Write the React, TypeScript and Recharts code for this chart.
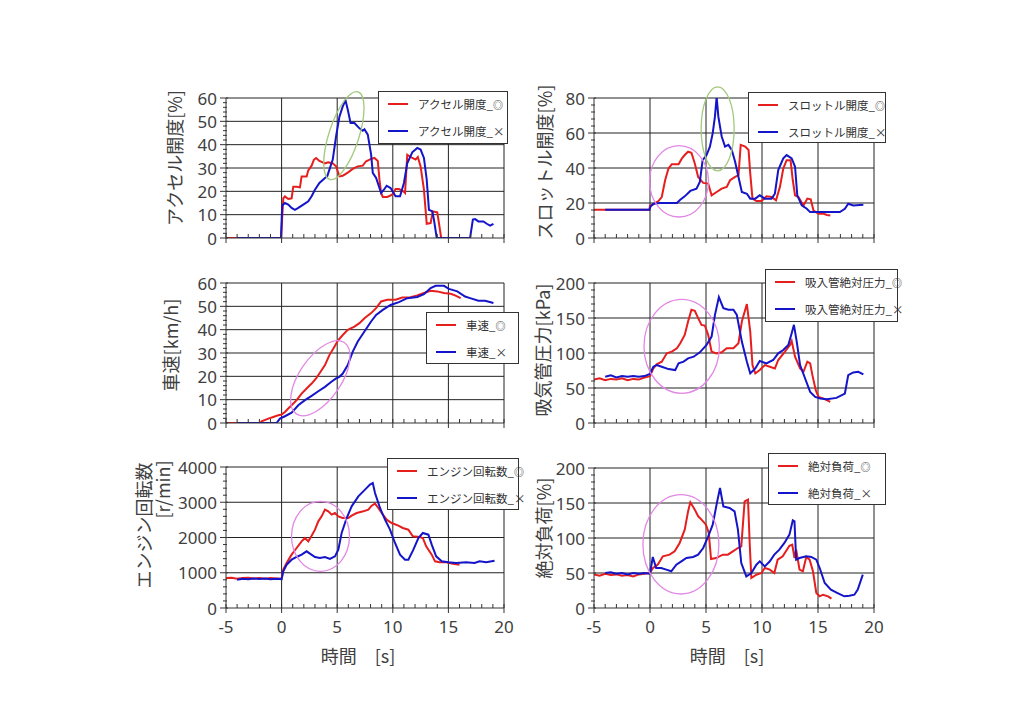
import React from "react";
import { LineChart, Line, XAxis, YAxis, ReferenceLine, ReferenceDot, Legend } from "recharts";

// time [s] / value pairs (◎ = red, × = blue)
const accelGood: [number, number][] = [
  [-5, 0], [-0.05, 0], [0.15, 17], [0.3, 17.8], [0.6, 16.7], [0.9, 17], [1.05, 22], [1.35, 22], [1.65, 21.7],
  [1.8, 26.4], [2.25, 26.4], [2.4, 29], [2.7, 31], [2.9, 33.5], [3.1, 34.3], [3.4, 33], [3.9, 32], [4.2, 32.4],
  [4.6, 32], [4.9, 30.7], [5.2, 26.4], [5.5, 26.7], [5.95, 28], [6.4, 29.6], [6.85, 30.7], [7.3, 31], [7.6, 32.9],
  [8.05, 33.9], [8.35, 34.3], [8.65, 33], [8.8, 25], [8.95, 19.3], [9.1, 17.6], [9.5, 17.6], [9.95, 18.6],
  [10.25, 21], [10.55, 21], [10.95, 20], [11.1, 19.3], [11.3, 35.7], [11.75, 34.3], [12.05, 33.6], [12.25, 34.7],
  [12.5, 30.7], [12.8, 20.7], [13.05, 6.1], [13.4, 6.4], [13.6, 11.4], [14.0, 11], [14.15, 6.4], [14.35, 0], [16.1, 0],
];
const accelBad: [number, number][] = [
  [-4, 0], [-0.05, 0], [0.05, 13.9], [0.3, 15], [0.6, 14.3], [0.9, 12.9], [1.2, 12.1], [1.5, 12.9], [1.95, 14.3],
  [2.4, 15.7], [2.7, 17.9], [3.0, 20.7], [3.4, 23.6], [3.9, 25.7], [4.1, 26.4], [4.3, 29.3], [4.6, 33.6], [4.9, 43.6],
  [5.2, 52], [5.5, 56.4], [5.75, 59], [5.95, 55], [6.2, 49.3], [6.55, 49.3], [7.0, 47], [7.3, 46], [7.45, 46.6],
  [7.75, 44.3], [8.05, 35.7], [8.2, 27.9], [8.5, 25.7], [8.95, 19.3], [9.2, 20.7], [9.45, 22.4], [9.8, 21.4],
  [10.25, 17.9], [10.65, 17.9], [11.0, 23.6], [11.3, 32], [11.75, 36.7], [12.2, 38.6], [12.5, 37.9], [12.8, 34.3],
  [13.05, 25], [13.25, 12.1], [13.55, 11.4], [13.7, 7.9], [13.95, 0], [16.95, 0], [17.2, 7.9], [17.4, 8.1],
  [17.7, 7.1], [18.15, 7.1], [18.45, 6.1], [18.75, 5.3], [19.05, 6.1],
];
const throttleGood: [number, number][] = [
  [-5, 16.1], [-0.05, 16.1], [0, 18.6], [0.3, 19.2], [0.75, 21.1], [1.05, 23.4], [1.35, 33], [1.65, 39.7],
  [1.95, 42.2], [2.55, 42.2], [2.85, 45.5], [3.1, 47.4], [3.4, 49.3], [3.7, 48.7], [4.0, 42.6], [4.3, 34.9],
  [4.75, 31.5], [5.2, 31.1], [5.5, 24.4], [5.95, 26.3], [6.4, 28.2], [6.85, 29.2], [7.15, 33], [7.6, 34.9],
  [7.9, 35.9], [8.1, 53.2], [8.5, 52.2], [8.8, 50.3], [8.95, 36.9], [9.15, 22.5], [9.5, 21.1], [9.95, 21.1],
  [10.4, 23.8], [10.85, 23.4], [11.25, 21.5], [11.6, 29.2], [11.9, 39.7], [12.2, 44.5], [12.55, 44.5], [12.75, 33],
  [12.95, 24.4], [13.25, 23.4], [13.7, 18.6], [14.05, 22.5], [14.35, 22.1], [14.6, 15.7], [15.05, 13.8],
  [15.5, 13.8], [15.8, 13.2], [16.1, 12.9],
];
const throttleBad: [number, number][] = [
  [-4, 16.1], [-0.05, 16.1], [0.05, 18], [0.3, 19.6], [0.9, 20], [2.4, 20], [2.7, 21.9], [3.1, 23.8], [3.6, 26.9],
  [4.15, 28.2], [4.45, 32], [4.7, 44.5], [5.05, 47.4], [5.35, 52.2], [5.6, 59.9], [5.8, 69.5], [5.95, 80.6],
  [6.1, 69.5], [6.4, 58], [6.7, 52.2], [7.0, 53.2], [7.3, 50.3], [7.6, 43.6], [7.9, 34.9], [8.2, 26.3],
  [8.65, 25.3], [8.95, 22.5], [9.4, 22.5], [9.8, 24.4], [10.25, 22.5], [10.85, 22.5], [11.15, 25.3], [11.45, 38.8],
  [11.9, 45.5], [12.2, 47.4], [12.65, 45.5], [12.95, 40.7], [13.15, 24.4], [13.55, 18.6], [14.0, 16.7],
  [14.3, 14.8], [16.95, 14.8], [17.4, 16.7], [17.7, 19.6], [18.15, 18.6], [19.05, 19],
];
const speedGood: [number, number][] = [
  [-5, 0], [-1.9, 0], [-1.8, 0.7], [-1.2, 1.9], [-0.75, 2.6], [-0.3, 3.3], [0, 3.6], [0.3, 4.7], [0.6, 6.2],
  [0.9, 7.6], [1.35, 9.8], [1.8, 12.6], [2.25, 14.8], [2.7, 16.9], [3.1, 19.1], [3.4, 21.2], [3.9, 24.8],
  [4.3, 29.1], [4.75, 32.7], [5.05, 35.2], [5.5, 37.7], [5.95, 39.9], [6.55, 41.3], [7.0, 42.8], [7.45, 44.9],
  [8.05, 47.1], [8.5, 49.2], [8.95, 52.1], [9.5, 52.8], [10.25, 52.8], [10.85, 53.8], [11.6, 53.9], [12.2, 54.7],
  [12.8, 55.7], [13.4, 56.7], [14.0, 56.4], [14.6, 55.7], [15.2, 55.4], [15.6, 54.7], [16.1, 53.5],
];
const speedBad: [number, number][] = [
  [-4, 0], [-0.45, 0], [-0.15, 1.9], [0.3, 2.9], [0.9, 4.4], [1.5, 7.6], [2.1, 9.8], [2.7, 11.6], [3.3, 13.6],
  [3.9, 15.5], [4.45, 17.6], [4.9, 19.1], [5.2, 19.8], [5.5, 21.2], [5.95, 24.8], [6.4, 30.6], [6.85, 34.9],
  [7.45, 39.2], [8.05, 43.5], [8.5, 46.3], [9.1, 48.5], [9.8, 50.6], [10.55, 51.8], [11.3, 53.5], [12.2, 54],
  [12.8, 55.2], [13.4, 57.8], [13.85, 58.8], [14.6, 58.8], [15.05, 57.5], [15.8, 56.4], [16.5, 54.2],
  [16.95, 53.5], [17.7, 52.4], [18.3, 52.4], [19.05, 51.4],
];
const mapGood: [number, number][] = [
  [-5, 62], [-4.5, 64], [-4, 61], [-3.5, 63], [-3, 62], [-2.5, 64], [-2, 61], [-1.5, 63], [-1, 62], [-0.5, 65],
  [0, 67], [0.3, 78], [0.6, 83.7], [1.05, 87.6], [1.5, 99.5], [1.95, 101.9], [2.4, 106.7], [2.7, 113.9],
  [3.1, 125.8], [3.4, 145], [3.7, 161.7], [4.0, 160.3], [4.3, 149.8], [4.6, 140.2], [4.9, 139.2], [5.2, 125.8],
  [5.5, 101.9], [5.95, 99.5], [6.4, 101], [6.85, 106.7], [7.45, 106.7], [7.9, 113.9], [8.2, 145], [8.65, 169.9],
  [8.95, 130.6], [9.15, 82.8], [9.4, 70.8], [9.8, 75.6], [10.25, 82.8], [10.7, 80.4], [11.15, 78], [11.45, 90],
  [12.05, 101.9], [12.5, 111.5], [12.65, 117.2], [12.95, 94.7], [13.4, 78], [13.7, 73.2], [14.05, 87.6],
  [14.3, 85.2], [14.5, 68.4], [14.8, 46.9], [15.05, 37.3], [15.5, 34.9], [16.1, 30.1],
];
const mapBad: [number, number][] = [
  [-4, 66], [-3.5, 68], [-3, 65], [-2.5, 67], [-2, 66], [-1.5, 67], [-1, 66], [-0.5, 67], [0, 70], [0.3, 80.4],
  [0.6, 82.8], [1.05, 80.4], [1.65, 77], [2.25, 75.6], [2.55, 85.2], [3.0, 87.6], [3.4, 92.3], [3.9, 94.7],
  [4.45, 101], [5.05, 111.5], [5.5, 123.4], [5.8, 154.5], [6.15, 179.9], [6.55, 164.1], [7.0, 161.7],
  [7.45, 161.7], [7.75, 154.5], [8.2, 116.3], [8.65, 87.6], [8.95, 70.8], [9.4, 78], [9.8, 88.5], [10.4, 85.2],
  [11.0, 90], [11.45, 99.5], [11.9, 104.3], [12.35, 111.5], [12.65, 128.2], [12.85, 140.2], [13.1, 116.3],
  [13.4, 82.8], [13.85, 63.6], [14.3, 44.5], [14.75, 37.3], [15.2, 34.9], [15.8, 34], [16.65, 35.9], [17.4, 42.1],
  [17.7, 68.4], [18.15, 72.2], [18.6, 73.2], [19.05, 69.4],
];
const rpmGood: [number, number][] = [
  [-5, 850], [-4.5, 860], [-4, 830], [-3.5, 850], [-3, 860], [-2.5, 840], [-2, 850], [-1.5, 830], [-1, 850],
  [-0.5, 840], [0, 830], [0.15, 1087], [0.45, 1277], [0.9, 1513], [1.35, 1702], [1.8, 1891], [2.1, 1986],
  [2.4, 1891], [2.7, 2052], [3.0, 2222], [3.3, 2459], [3.6, 2600], [3.9, 2790], [4.2, 2742], [4.5, 2648],
  [4.8, 2695], [5.1, 2600], [5.5, 2553], [6.0, 2553], [6.3, 2619], [6.75, 2695], [7.35, 2742], [7.8, 2790],
  [8.1, 2903], [8.4, 2960], [8.7, 2837], [9.0, 2695], [9.45, 2506], [9.9, 2411], [10.5, 2336], [10.9, 2270],
  [11.4, 2222], [11.8, 2033], [12.4, 2014], [12.7, 1986], [13.0, 1749], [13.5, 1513], [13.8, 1324], [14.2, 1296],
  [14.8, 1296], [15.4, 1258], [16.0, 1229],
];
const rpmBad: [number, number][] = [
  [-4, 804], [-3.5, 830], [-3, 815], [-2.5, 840], [-2, 820], [-1.5, 835], [-1, 815], [-0.5, 830], [0, 820],
  [0.15, 1040], [0.45, 1229], [0.9, 1371], [1.35, 1447], [1.8, 1513], [2.25, 1608], [2.55, 1541], [3.0, 1447],
  [3.45, 1418], [3.9, 1447], [4.35, 1390], [4.8, 1466], [5.1, 1655], [5.4, 2128], [5.85, 2553], [6.3, 2884],
  [6.9, 3168], [7.5, 3357], [7.95, 3499], [8.2, 3546], [8.4, 3262], [8.85, 2837], [9.3, 2506], [9.75, 2222],
  [10.2, 1844], [10.65, 1513], [11.1, 1371], [11.4, 1371], [11.85, 1655], [12.3, 1986], [12.7, 2128],
  [13.2, 2080], [13.5, 1797], [13.9, 1466], [14.4, 1324], [15.0, 1296], [15.7, 1277], [16.6, 1296],
  [17.35, 1277], [17.8, 1324], [18.4, 1296], [19.15, 1343],
];
const loadGood: [number, number][] = [
  [-5, 48], [-4.5, 46], [-4, 49], [-3.5, 47], [-3, 48], [-2.5, 46], [-2, 47], [-1.5, 45], [-1, 48], [-0.5, 49],
  [0, 50], [0.25, 57], [0.7, 62], [1.15, 73.8], [1.75, 76.2], [2.2, 81], [2.65, 92.9], [3.1, 111.9], [3.4, 138],
  [3.6, 151], [4.0, 140.5], [4.3, 131], [4.6, 126.2], [5.0, 119], [5.25, 107], [5.45, 70], [5.9, 71.4],
  [6.5, 76.2], [6.95, 76.2], [7.4, 81], [7.85, 85.7], [8.15, 88.1], [8.45, 152.4], [8.75, 154.8], [8.9, 92.9],
  [9.05, 42.9], [9.5, 47.6], [9.95, 50], [10.25, 57.1], [10.7, 54.8], [11.1, 50], [11.4, 69], [11.85, 73.8],
  [12.45, 89], [12.7, 90.5], [12.9, 71.4], [13.05, 83.3], [13.35, 54.8], [13.65, 52.4], [13.95, 72.9],
  [14.25, 69], [14.55, 52.4], [14.85, 21.4], [15.15, 16.7], [15.45, 19], [15.9, 16.7], [16.2, 13.3],
];
const loadBad: [number, number][] = [
  [-4, 50], [-3.5, 51], [-3, 49], [-2.5, 50], [-2, 48], [-1.5, 50], [-1, 49], [-0.5, 50], [0, 49], [0.25, 72.9],
  [0.55, 57], [1.0, 57], [1.45, 54.8], [1.9, 52.4], [2.35, 61.9], [2.8, 66.7], [3.25, 71.4], [3.85, 72.9],
  [4.3, 76.2], [4.75, 85.7], [5.2, 102.4], [5.6, 119], [6.0, 152.4], [6.25, 171.4], [6.55, 145.2], [7.1, 142.9],
  [7.55, 138.1], [7.85, 111.9], [8.15, 64.3], [8.6, 45.2], [9.05, 50], [9.5, 61.9], [9.8, 66.7], [10.25, 59.5],
  [10.7, 66.7], [11.1, 76.2], [11.55, 83.3], [12.0, 92.9], [12.45, 104.8], [12.75, 125.2], [12.9, 123.8],
  [13.05, 69], [13.35, 71.4], [13.95, 73.8], [14.4, 72.9], [14.85, 69], [15.15, 57.1], [15.6, 35.7],
  [16.15, 26.2], [16.75, 21.4], [17.35, 16.7], [17.8, 17.6], [18.25, 19], [18.55, 26.2], [19.0, 47.6],
];

const timeMajor = [-5, 0, 5, 10, 15, 20];
const accelMajor = [0, 10, 20, 30, 40, 50, 60];
const throttleMajor = [0, 20, 40, 60, 80];
const speedMajor = [0, 10, 20, 30, 40, 50, 60];
const mapMajor = [0, 50, 100, 150, 200];
const rpmMajor = [0, 1000, 2000, 3000, 4000];
const loadMajor = [0, 50, 100, 150, 200];

const RED = "#e61e1e";
const BLUE = "#1414c8";
const GREEN = "#a3c97c";
const PINK = "#e288e6";
const TXT = "#404040";
const JP = '"Noto Sans CJK JP", "Noto Sans", sans-serif';
const NUM = '"Noto Sans", "DejaVu Sans", sans-serif';
const TOP = 30; // room above the plot for rotated titles
const YW = 110; // y axis band width

const toPts = (a: [number, number][]) => a.map(([t, v]) => ({ t, v }));
const withMinor = (major: number[], n: number) => {
  const out: number[] = [];
  for (let i = 0; i < major.length - 1; i++) {
    const step = (major[i + 1] - major[i]) / n;
    for (let k = 0; k < n; k++) out.push(major[i] + step * k);
  }
  out.push(major[major.length - 1]);
  return out;
};

// left/top = plot-area corner on the page, ph = plot height
const panels = [
  {
    id: "accel", left: 226, top: 98, pw: 278, ph: 140, bottom: false,
    good: accelGood, bad: accelBad, major: accelMajor, name: "アクセル開度",
    title: [{ text: "アクセル開度[%]", dx: 52, dy: -10 }],
    legend: { x: 378, y: 91, w: 130, h: 53 },
    ellipses: [{ t: 5.6, v: 43.9, rx: 15, ry: 46, rot: 18, color: GREEN }],
  },
  {
    id: "throttle", left: 594, top: 98, pw: 280, ph: 140, bottom: false,
    good: throttleGood, bad: throttleBad, major: throttleMajor, name: "スロットル開度",
    title: [{ text: "スロットル開度[%]", dx: 50, dy: -6 }],
    legend: { x: 748, y: 92, w: 138, h: 51 },
    ellipses: [
      { t: 6.04, v: 62.4, rx: 16.5, ry: 42, rot: 0, color: GREEN },
      { t: 2.59, v: 32.4, rx: 29.5, ry: 35.7, rot: 0, color: PINK },
    ],
  },
  {
    id: "speed", left: 226, top: 283, pw: 278, ph: 140, bottom: false,
    good: speedGood, bad: speedBad, major: speedMajor, name: "車速",
    title: [{ text: "車速[km/h]", dx: 56, dy: -8 }],
    legend: { x: 426, y: 312, w: 93, h: 52 },
    ellipses: [{ t: 3.48, v: 19.2, rx: 21, ry: 43, rot: 34, color: PINK }],
  },
  {
    id: "map", left: 594, top: 283, pw: 280, ph: 140, bottom: false,
    good: mapGood, bad: mapBad, major: mapMajor, name: "吸入管絶対圧力",
    title: [{ text: "吸気管圧力[kPa]", dx: 52, dy: -3 }],
    legend: { x: 765, y: 269, w: 133, h: 53 },
    ellipses: [{ t: 2.83, v: 109.6, rx: 37.7, ry: 47, rot: 0, color: PINK }],
  },
  {
    id: "rpm", left: 226, top: 467, pw: 278, ph: 141, bottom: true,
    good: rpmGood, bad: rpmBad, major: rpmMajor, name: "エンジン回転数",
    title: [
      { text: "エンジン回転数", dx: 83, dy: -12 },
      { text: "[r/min]", dx: 64, dy: -48 },
    ],
    legend: { x: 387, y: 458, w: 132, h: 52 },
    ellipses: [{ t: 3.5, v: 2033, rx: 29, ry: 35, rot: 0, color: PINK }],
  },
  {
    id: "load", left: 594, top: 468, pw: 280, ph: 140, bottom: true,
    good: loadGood, bad: loadBad, major: loadMajor, name: "絶対負荷",
    title: [{ text: "絶対負荷[%]", dx: 51, dy: -10 }],
    legend: { x: 768, y: 453, w: 118, h: 52 },
    ellipses: [{ t: 2.76, v: 91, rx: 38, ry: 49.7, rot: 0, color: PINK }],
  },
];

function XTick(props: any) {
  const { x, y, payload, showLabel } = props;
  const v = payload.value;
  const major = timeMajor.includes(v);
  return (
    <g>
      <line x1={x} x2={x} y1={y - 4} y2={major ? y + 5 : y} stroke="#333" strokeWidth={1} />
      {major && showLabel && (
        <text x={x} y={y + 25} textAnchor="middle" fill={TXT} style={{ fontFamily: NUM, fontSize: 17 }}>
          {v}
        </text>
      )}
    </g>
  );
}

function YTick(props: any) {
  const { x, y, payload, major } = props;
  const v = payload.value;
  const isMajor = major.includes(v);
  return (
    <g>
      <line x1={x - (isMajor ? 6 : 3)} x2={x + (isMajor ? 2 : 1)} y1={y} y2={y} stroke="#333" strokeWidth={1} />
      {isMajor && (
        <text x={x - 9} y={y} textAnchor="end" dominantBaseline="central" fill={TXT} style={{ fontFamily: NUM, fontSize: 17 }}>
          {v}
        </text>
      )}
    </g>
  );
}

const yTitle = (lines: { text: string; dx: number; dy: number }[]) => (props: any) => {
  const vb = props.viewBox || { x: 0, y: TOP, width: YW, height: 140 };
  const ax = vb.x + vb.width;
  const cy = vb.y + vb.height / 2;
  return (
    <g>
      {lines.map((l, i) => (
        <text
          key={i}
          x={ax - l.dx}
          y={cy + l.dy}
          transform={`rotate(-90 ${ax - l.dx} ${cy + l.dy})`}
          textAnchor="middle"
          dominantBaseline="central"
          fill={TXT}
          style={{ fontFamily: JP, fontSize: 18 }}
        >
          {l.text}
        </text>
      ))}
    </g>
  );
};

const xTitle = (props: any) => {
  const vb = props.viewBox || { x: YW, y: TOP + 141, width: 278, height: 60 };
  return (
    <text
      x={vb.x + vb.width / 2 - 7}
      y={vb.y + 47}
      textAnchor="middle"
      dominantBaseline="central"
      fill={TXT}
      style={{ fontFamily: JP, fontSize: 18 }}
    >
      時間　[s]
    </text>
  );
};

function LegendBox({ name, w, h }: { name: string; w: number; h: number }) {
  const rows = [
    { color: RED, mark: "◎", small: true },
    { color: BLUE, mark: "×", small: false },
  ];
  return (
    <div
      style={{
        width: w, height: h, boxSizing: "border-box", border: "1px solid #333", background: "#fff",
        position: "relative", fontFamily: JP, fontSize: 11.5, color: "#333",
      }}
    >
      {rows.map((r, i) => (
        <div
          key={i}
          style={{ position: "absolute", left: 9, top: i === 0 ? 4 : 31, height: 16, display: "flex", alignItems: "center", whiteSpace: "nowrap" }}
        >
          <span style={{ display: "inline-block", width: 20, height: 2, background: r.color, marginRight: 10 }} />
          <span>
            {name}_<span style={{ fontSize: r.small ? 10 : 11.5 }}>{r.mark}</span>
          </span>
        </div>
      ))}
    </div>
  );
}

function Panel({ p }: { p: (typeof panels)[number] }) {
  const yMax = p.major[p.major.length - 1];
  const yTicks = withMinor(p.major, 5);
  const xTicks = withMinor(timeMajor, 5);
  const axisH = p.bottom ? 60 : 30;
  const cl = p.left - YW;
  const ct = p.top - TOP;
  return (
    <div style={{ position: "absolute", left: cl, top: ct }}>
      <LineChart width={YW + p.pw + 10} height={TOP + p.ph + axisH} margin={{ top: TOP, right: 10, left: 0, bottom: 0 }}>
        <XAxis
          dataKey="t"
          type="number"
          domain={[-5, 20]}
          ticks={xTicks}
          interval={0}
          allowDataOverflow
          height={axisH}
          tickLine={false}
          tickSize={0}
          tickMargin={0}
          axisLine={{ stroke: "#333" }}
          tick={(tp: any) => <XTick {...tp} showLabel={p.bottom} />}
          label={p.bottom ? { content: xTitle } : undefined}
        />
        <YAxis
          dataKey="v"
          type="number"
          domain={[0, yMax]}
          ticks={yTicks}
          interval={0}
          allowDataOverflow
          width={YW}
          tickLine={false}
          tickSize={0}
          tickMargin={0}
          axisLine={{ stroke: "#333" }}
          tick={(tp: any) => <YTick {...tp} major={p.major} />}
          label={{ content: yTitle(p.title) }}
        />
        {p.major.slice(1).map((v) => (
          <ReferenceLine key={`h${v}`} y={v} stroke="#222" strokeWidth={1} />
        ))}
        {timeMajor.slice(1).map((v) => (
          <ReferenceLine key={`v${v}`} x={v} stroke="#222" strokeWidth={1} />
        ))}
        <Line data={toPts(p.good)} dataKey="v" name={`${p.name}_◎`} stroke={RED} strokeWidth={2} dot={false} type="linear" isAnimationActive={false} />
        <Line data={toPts(p.bad)} dataKey="v" name={`${p.name}_×`} stroke={BLUE} strokeWidth={2} dot={false} type="linear" isAnimationActive={false} />
        {p.ellipses.map((e, i) => (
          <ReferenceDot
            key={`e${i}`}
            x={e.t}
            y={e.v}
            r={1}
            shape={(sp: any) => (
              <ellipse
                cx={sp.cx}
                cy={sp.cy}
                rx={e.rx}
                ry={e.ry}
                transform={`rotate(${e.rot} ${sp.cx} ${sp.cy})`}
                fill="none"
                stroke={e.color}
                strokeWidth={1.3}
              />
            )}
          />
        ))}
        <Legend
          layout="vertical"
          align="center"
          verticalAlign="middle"
          wrapperStyle={{ left: p.legend.x - cl, top: p.legend.y - ct, width: p.legend.w, height: p.legend.h }}
          content={() => <LegendBox name={p.name} w={p.legend.w} h={p.legend.h} />}
        />
      </LineChart>
    </div>
  );
}

export default function App() {
  return (
    <div style={{ position: "absolute", left: 0, top: 0, width: 1024, height: 709, background: "#fff", overflow: "hidden" }}>
      {panels.map((p) => (
        <Panel key={p.id} p={p} />
      ))}
    </div>
  );
}
